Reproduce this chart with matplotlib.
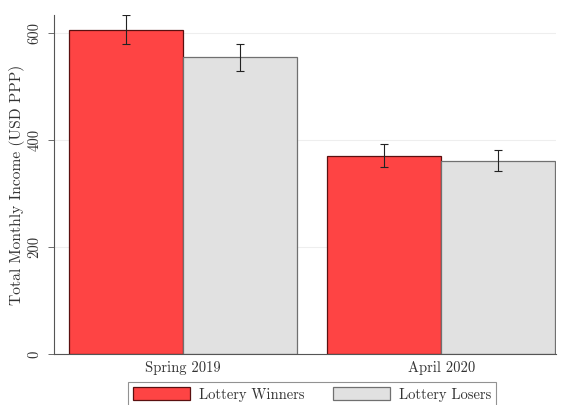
import numpy as np
import matplotlib.pyplot as plt

plt.rcParams['font.family'] = ['cmr10', 'DejaVu Serif']
plt.rcParams['axes.formatter.use_mathtext'] = True

periods = ['Spring 2019', 'April 2020']
winners = [605, 370]
winners_lo = [580, 350]
winners_hi = [634, 392]
losers = [555, 361]
losers_lo = [529, 342]
losers_hi = [580, 381]

fig = plt.figure(figsize=(5.68, 4.05), dpi=100)
ax = fig.add_axes([0.095, 0.126, 0.884, 0.837])

x = np.arange(len(periods))
w = 0.442

ax.bar(x - w / 2, winners, w, color='#fe4444', edgecolor='#5a1010', linewidth=0.9,
       label='Lottery Winners', zorder=2)
ax.bar(x + w / 2, losers, w, color='#e1e1e1', edgecolor='#707070', linewidth=0.9,
       label='Lottery Losers', zorder=2)

win_err = [np.array(winners) - np.array(winners_lo), np.array(winners_hi) - np.array(winners)]
los_err = [np.array(losers) - np.array(losers_lo), np.array(losers_hi) - np.array(losers)]
ax.errorbar(x - w / 2, winners, yerr=win_err, fmt='none', ecolor='#222222',
            elinewidth=0.8, capsize=3, capthick=0.8, zorder=3)
ax.errorbar(x + w / 2, losers, yerr=los_err, fmt='none', ecolor='#222222',
            elinewidth=0.8, capsize=3, capthick=0.8, zorder=3)

txt = '#333333'
ax.set_xlim(-0.5, 1.445)
ax.set_ylim(0, 634)
ax.set_xticks(x)
ax.set_xticklabels(periods, fontsize=10.5, color=txt)
ax.tick_params(axis='x', length=0, pad=5)
ax.set_yticks([0, 200, 400, 600])
ax.set_yticklabels(['0', '200', '400', '600'], rotation=90, va='center',
                   fontsize=10.5, color=txt)
ax.tick_params(axis='y', length=4, width=0.6, color='#555555', pad=5)
ax.yaxis.grid(True, color='#eeeeee', linewidth=0.8, zorder=0)
ax.set_axisbelow(True)
ax.set_ylabel('Total Monthly Income (USD PPP)', fontsize=11.2, labelpad=2, color=txt)

for s in ['top', 'right']:
    ax.spines[s].set_visible(False)
for s in ['left', 'bottom']:
    ax.spines[s].set_color('#555555')
    ax.spines[s].set_linewidth(0.8)

leg = ax.legend(loc='upper center', bbox_to_anchor=(0.514, -0.083), ncol=2,
                fontsize=10.5, frameon=True, fancybox=False, edgecolor='#777777',
                handlelength=3.9, handleheight=1.0, handletextpad=0.6,
                columnspacing=2.0, borderpad=0.35, borderaxespad=0)
leg.get_frame().set_linewidth(0.8)
for t in leg.get_texts():
    t.set_color(txt)

fig.savefig('out.png', dpi=100)
